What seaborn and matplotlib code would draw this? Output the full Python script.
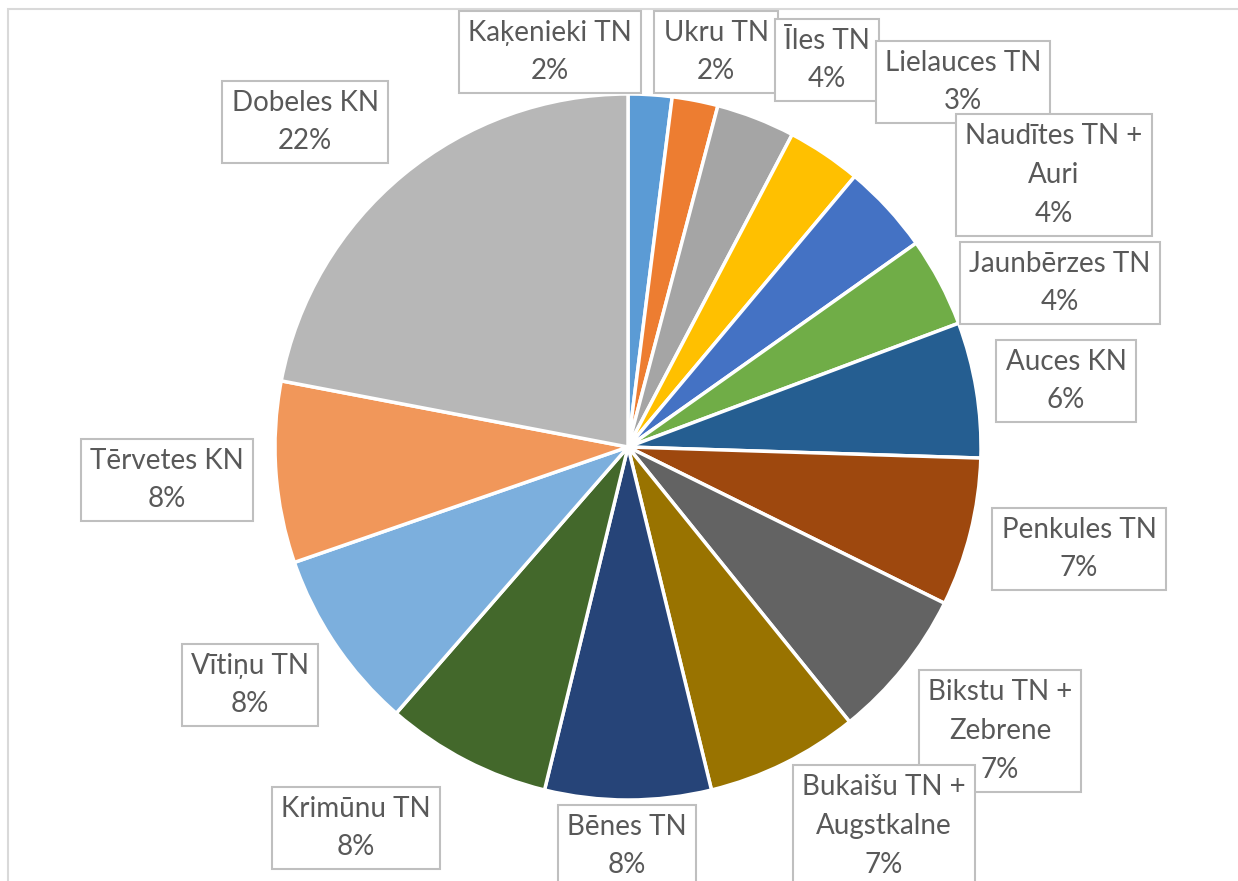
import matplotlib
matplotlib.use("Agg")
import matplotlib.pyplot as plt
from matplotlib.patches import Rectangle
import seaborn as sns

# shares per territory, clockwise from 12 o'clock
territories = [
    "Kaķenieki TN", "Ukru TN", "Īles TN", "Lielauces TN", "Naudītes TN +\nAuri",
    "Jaunbērzes TN", "Auces KN", "Penkules TN", "Bikstu TN +\nZebrene",
    "Bukaišu TN +\nAugstkalne", "Bēnes TN", "Krimūnu TN", "Vītiņu TN",
    "Tērvetes KN", "Dobeles KN",
]
shares = [2.0, 2.1, 3.6, 3.4, 4.1, 4.1, 6.2, 6.8, 6.9, 7.0, 7.6, 7.6, 8.3, 8.3, 22.0]

colors = [
    "#5B9BD5", "#ED7D31", "#A5A5A5", "#FFC000", "#4472C4", "#70AD47", "#255E91",
    "#9E480E", "#636363", "#997300", "#264478", "#43682B", "#7CAFDD", "#F1975A",
    "#B7B7B7",
]

# label box centres in pixel coords (x from left, y from top)
label_xy = [
    (550, 52), (716, 52), (827, 60), (963, 82), (1054, 175),
    (1060, 283), (1066, 381), (1079, 549), (1000, 731),
    (884, 826), (627, 846), (356, 828), (250, 685),
    (167, 480), (305, 122),
]

W, H = 1238, 881
sns.set_theme(style="white")
plt.rcParams["font.family"] = ["Lato", "DejaVu Sans"]

fig = plt.figure(figsize=(W / 100, H / 100), dpi=100)
ax = fig.add_axes([0, 0, 1, 1])

ax.pie(shares, colors=colors, startangle=90, counterclock=False,
       center=(628, H - 447), radius=353,
       wedgeprops=dict(edgecolor="white", linewidth=2.5))

# pie() resets the limits, so set them afterwards
ax.set_xlim(0, W)
ax.set_ylim(0, H)
ax.set_aspect("equal")
ax.axis("off")

# chart area border (only top & left visible in the crop)
ax.add_patch(Rectangle((8, -50), W + 50, H - 9 + 50, fill=False,
                       edgecolor="#D9D9D9", linewidth=1.5))

total = sum(shares)
for name, val, (lx, ly) in zip(territories, shares, label_xy):
    ax.text(lx, H - ly, f"{name}\n{val / total * 100:.0f}%",
            ha="center", va="center", fontsize=20, color="#595959",
            linespacing=1.6,
            bbox=dict(boxstyle="square,pad=0.33", facecolor="white",
                      edgecolor="#BFBFBF", linewidth=1.5))

fig.savefig("out.png", dpi=100)
